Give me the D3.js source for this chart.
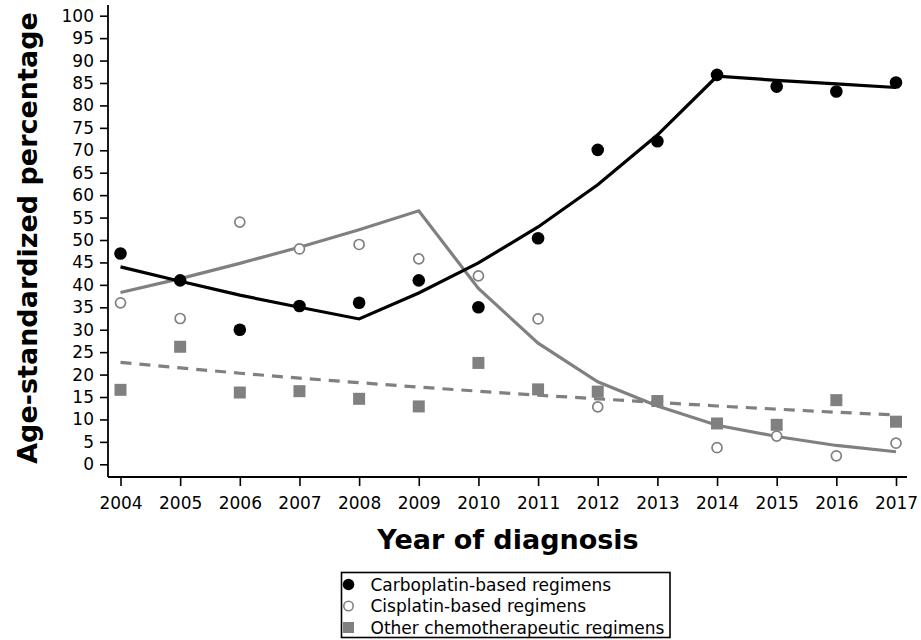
<!DOCTYPE html>
<html>
<head>
<meta charset="utf-8">
<script src="https://cdn.jsdelivr.net/npm/d3@7"></script>
<style>
  html, body { margin: 0; padding: 0; background: #fff; }
  svg { display: block; }
  text { font-family: "DejaVu Sans", Verdana, sans-serif; }
</style>
</head>
<body>
<svg id="chart" width="921" height="640"></svg>
<script>
// Diagnosis years
const years = [2004, 2005, 2006, 2007, 2008, 2009, 2010, 2011, 2012, 2013, 2014, 2015, 2016, 2017];

// Observed age-standardized percentages
const carboplatinObserved = [47.0, 41.0, 30.0, 35.3, 36.0, 41.0, 35.0, 50.4, 70.1, 72.0, 86.8, 84.2, 83.1, 85.1];
const cisplatinObserved   = [36.0, 32.5, 54.0, 48.0, 49.0, 45.8, 42.0, 32.4, 12.8, 14.1, 3.7, 6.3, 1.9, 4.7];
const otherObserved       = [16.6, 26.2, 16.0, 16.3, 14.6, 12.9, 22.6, 16.7, 16.2, 14.1, 9.1, 8.8, 14.3, 9.5];

// Modelled (joinpoint) trends
const carboplatinFitted = [44.0, 40.8, 37.7, 35.0, 32.4, 38.2, 44.9, 52.9, 62.3, 73.4, 86.5, 85.6, 84.8, 84.0];
const cisplatinFitted   = [38.3, 41.4, 44.8, 48.4, 52.3, 56.5, 39.2, 27.0, 18.4, 13.0, 8.7, 6.2, 4.2, 2.8];
const otherFitted       = [22.7, 21.5, 20.3, 19.2, 18.2, 17.2, 16.3, 15.4, 14.6, 13.8, 13.0, 12.3, 11.6, 11.0];

// Axis ticks
const yTicks = [0, 5, 10, 15, 20, 25, 30, 35, 40, 45, 50, 55, 60, 65, 70, 75, 80, 85, 90, 95, 100];
const xTickLabels = years.map(String);

// Legend entries
const legendLabels = ["Carboplatin-based regimens", "Cisplatin-based regimens", "Other chemotherapeutic regimens"];

const GREY = "#808080";

const svg = d3.select("#chart");

const x = d3.scaleLinear().domain([2004, 2017]).range([120.5, 896]);
const y = d3.scaleLinear().domain([0, 100]).range([464.3, 15.7]);

const axisX0 = 108, axisY0 = 477;

// Y axis
const yAxis = d3.axisLeft(y).tickValues(yTicks).tickSize(8).tickPadding(6).tickSizeOuter(0);
const gy = svg.append("g").attr("transform", `translate(${axisX0},0)`).call(yAxis);
gy.select(".domain").remove();
gy.selectAll(".tick line").attr("stroke", "#000").attr("stroke-width", 1.6);
gy.selectAll(".tick text").attr("font-size", 17).attr("fill", "#000");
svg.append("line")
  .attr("x1", axisX0).attr("x2", axisX0).attr("y1", 5).attr("y2", axisY0)
  .attr("stroke", "#000").attr("stroke-width", 1.8);

// X axis
const xAxis = d3.axisBottom(x).tickValues(years).tickFormat((d, i) => xTickLabels[i])
  .tickSize(9).tickPadding(10.5).tickSizeOuter(0);
const gx = svg.append("g").attr("transform", `translate(0,${axisY0})`).call(xAxis);
gx.select(".domain").remove();
gx.selectAll(".tick line").attr("stroke", "#000").attr("stroke-width", 1.6);
gx.selectAll(".tick text").attr("font-size", 17).attr("fill", "#000");
svg.append("line")
  .attr("x1", axisX0).attr("x2", 907).attr("y1", axisY0).attr("y2", axisY0)
  .attr("stroke", "#000").attr("stroke-width", 1.8);

// Axis titles
svg.append("text")
  .attr("x", 508).attr("y", 548.5)
  .attr("text-anchor", "middle")
  .attr("font-size", 27).attr("font-weight", "bold")
  .text("Year of diagnosis");

svg.append("text")
  .attr("transform", "translate(37,238) rotate(-90)")
  .attr("text-anchor", "middle")
  .attr("font-size", 27).attr("font-weight", "bold")
  .text("Age-standardized percentage");

// Trend lines
const line = d3.line().x((d, i) => x(years[i])).y(d => y(d));

svg.append("path").datum(otherFitted)
  .attr("d", line).attr("fill", "none")
  .attr("stroke", GREY).attr("stroke-width", 3.2).attr("stroke-dasharray", "11,8");

svg.append("path").datum(cisplatinFitted)
  .attr("d", line).attr("fill", "none")
  .attr("stroke", GREY).attr("stroke-width", 3.2).attr("stroke-linejoin", "miter");

svg.append("path").datum(carboplatinFitted)
  .attr("d", line).attr("fill", "none")
  .attr("stroke", "#000").attr("stroke-width", 3.2).attr("stroke-linejoin", "miter");

// Observed points
svg.append("g").selectAll("circle").data(cisplatinObserved).join("circle")
  .attr("cx", (d, i) => x(years[i])).attr("cy", d => y(d)).attr("r", 5)
  .attr("fill", "#fff").attr("stroke", GREY).attr("stroke-width", 1.7);

const sq = 12;
svg.append("g").selectAll("rect").data(otherObserved).join("rect")
  .attr("x", (d, i) => x(years[i]) - sq / 2).attr("y", d => y(d) - sq / 2)
  .attr("width", sq).attr("height", sq)
  .attr("fill", GREY);

svg.append("g").selectAll("circle").data(carboplatinObserved).join("circle")
  .attr("cx", (d, i) => x(years[i])).attr("cy", d => y(d)).attr("r", 6.3)
  .attr("fill", "#000");

// Legend
const legend = svg.append("g");
legend.append("rect")
  .attr("x", 341.5).attr("y", 572.5).attr("width", 328.5).attr("height", 65)
  .attr("fill", "#fff").attr("stroke", "#000").attr("stroke-width", 1.6);

const rowY = [584.5, 606, 627.5];
legend.append("circle").attr("cx", 348.5).attr("cy", rowY[0]).attr("r", 5.8).attr("fill", "#000");
legend.append("circle").attr("cx", 348.5).attr("cy", rowY[1]).attr("r", 4.7)
  .attr("fill", "#fff").attr("stroke", GREY).attr("stroke-width", 1.6);
legend.append("rect").attr("x", 348.5 - 5.5).attr("y", rowY[2] - 5.5).attr("width", 11).attr("height", 11)
  .attr("fill", GREY);

legend.selectAll("text.lab").data(legendLabels).join("text")
  .attr("class", "lab")
  .attr("x", 370.5).attr("y", (d, i) => rowY[i] + 6)
  .attr("font-size", 17).attr("fill", "#000")
  .text(d => d);
</script>
</body>
</html>
